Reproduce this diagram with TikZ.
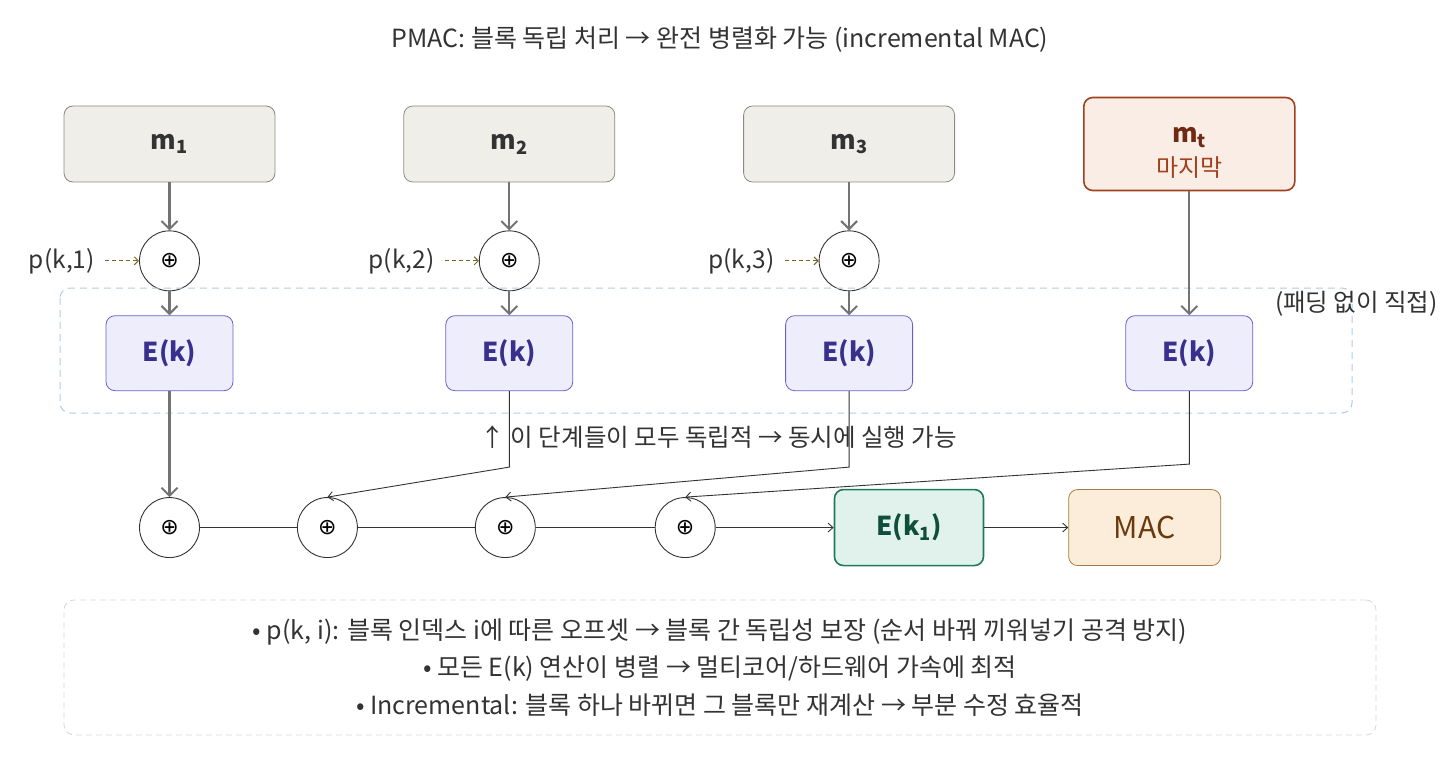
\documentclass[tikz,border=0pt]{standalone}
\usepackage{fontspec}
\setmainfont{Noto Sans CJK KR}
\newfontfamily\symfont{DejaVu Sans}
\usetikzlibrary{positioning,arrows.meta}

\definecolor{msgfill}{HTML}{F0EEE8}
\definecolor{msgline}{HTML}{8C8A82}
\definecolor{lastfill}{HTML}{FAEDE6}
\definecolor{lastline}{HTML}{A1401C}
\definecolor{lasttext}{HTML}{6E2A12}
\definecolor{encfill}{HTML}{EDEDFB}
\definecolor{encline}{HTML}{6C60C8}
\definecolor{enctext}{HTML}{3A2F8C}
\definecolor{finfill}{HTML}{E0F2EB}
\definecolor{finline}{HTML}{1F7A5C}
\definecolor{fintext}{HTML}{0E4E3A}
\definecolor{macfill}{HTML}{FBEDDA}
\definecolor{macline}{HTML}{A87B44}
\definecolor{mactext}{HTML}{6A3A0C}
\definecolor{flow}{HTML}{737373}
\definecolor{ink}{HTML}{333333}
\definecolor{offset}{HTML}{7A6425}
\definecolor{grpline}{HTML}{B4CAE2}
\definecolor{noteline}{HTML}{D8D8D8}

\tikzset{
    box/.style={rounded corners=9pt, minimum height=76pt, line width=0.8pt},
    msg/.style={box, draw=msgline, fill=msgfill, minimum width=211pt, text=ink, font=\fontsize{26}{30}\selectfont\bfseries},
    lastmsg/.style={box, draw=lastline, fill=lastfill, minimum width=211pt, minimum height=93pt, line width=1.6pt, text=lasttext, font=\fontsize{26}{30}\selectfont\bfseries},
    enc/.style={box, draw=encline, fill=encfill, minimum width=127pt, minimum height=75pt, text=enctext, font=\fontsize{26}{30}\selectfont\bfseries},
    fin/.style={box, draw=finline, fill=finfill, minimum width=149pt, line width=1.6pt, text=fintext, font=\fontsize{26}{30}\selectfont\bfseries},
    mac/.style={box, draw=macline, fill=macfill, minimum width=152pt, text=mactext, font=\fontsize{30}{34}\selectfont},
    xor/.style={circle, draw=ink, fill=white, line width=0.9pt, minimum size=60pt, inner sep=0pt, font=\symfont\fontsize{22}{22}\selectfont},
    lbl/.style={text=ink, inner sep=2pt, font=\fontsize{24.5}{28}\selectfont},
    flowarrow/.style={draw=flow, line width=2.2pt, -{Straight Barb[length=8pt,width=16pt,line width=2pt]}},
    link/.style={draw=ink, line width=0.9pt, -{Straight Barb[length=5pt,width=9pt]}},
    chain/.style={draw=ink, line width=0.9pt},
    offarrow/.style={draw=offset, line width=1pt, dash pattern=on 4pt off 3pt, -{Straight Barb[length=4pt,width=8pt]}},
}

\begin{document}
\begin{tikzpicture}[x=1pt,y=-1pt]
    \useasboundingbox (0,0) rectangle (1440,762);

    % Title
    \node[lbl, font=\fontsize{25}{29}\selectfont] (head) at (720,40) {PMAC: 블록 독립 처리 → 완전 병렬화 가능 (incremental MAC)};

    % Define nodes
    \node[msg]                          (m1)    at (169.5,144) {m\textsubscript{1}};
    \node[msg, right = 128pt of m1]     (m2)    {m\textsubscript{2}};
    \node[msg, right = 128pt of m2]     (m3)    {m\textsubscript{3}};
    \node[lastmsg, right = 128pt of m3] (mt)    {\raisebox{-10pt}[\height][\depth]{\begin{tabular}{@{}c@{}}m\textsubscript{t}\\[4pt]{\fontsize{24}{28}\selectfont\mdseries\color{lastline}마지막}\end{tabular}}};

    \node[xor, below = 48pt of m1]      (x1)    {⊕};
    \node[xor, below = 48pt of m2]      (x2)    {⊕};
    \node[xor, below = 48pt of m3]      (x3)    {⊕};

    \node[lbl, left = 42pt of x1]       (p1)    {p(k,1)};
    \node[lbl, left = 42pt of x2]       (p2)    {p(k,2)};
    \node[lbl, left = 42pt of x3]       (p3)    {p(k,3)};

    \node[enc, below = 24pt of x1]      (e1)    {E(k)};
    \node[enc, below = 24pt of x2]      (e2)    {E(k)};
    \node[enc, below = 24pt of x3]      (e3)    {E(k)};
    \node[enc, below = 124pt of mt]     (e4)    {E(k)};

    % independent group
    \draw[grpline, line width=1pt, dash pattern=on 7pt off 5pt, rounded corners=10pt] (60,288) rectangle (1352,413);
    \node[lbl, anchor=east]             (nopad) at (1440,304) {(패딩 없이 직접)};
    \node[lbl]                          (indep) at (719,437) {↑ 이 단계들이 모두 독립적 → 동시에 실행 가능};

    \node[xor, below = 106pt of e1]     (b1)    {⊕};
    \node[xor, right = 97pt of b1]      (b2)    {⊕};
    \node[xor, right = 117pt of b2]     (b3)    {⊕};
    \node[xor, right = 119pt of b3]     (b4)    {⊕};
    \node[fin, right = 118pt of b4]     (ek1)   {E(k\textsubscript{1})};
    \node[mac, right = 84pt of ek1]     (tag)   {MAC};

    % Connect nodes
    \draw[flowarrow] (m1) -- (x1);
    \draw[flowarrow] (m2) -- (x2);
    \draw[flowarrow] (m3) -- (x3);
    \draw[flowarrow] (x1) -- (e1);
    \draw[flowarrow] (x2) -- (e2);
    \draw[flowarrow] (x3) -- (e3);
    \draw[flowarrow] (mt) -- (e4);
    \draw[flowarrow] (e1) -- (b1);

    \draw[offarrow, shorten <=8pt] (p1.east) -- (x1.west);
    \draw[offarrow, shorten <=8pt] (p2.east) -- (x2.west);
    \draw[offarrow, shorten <=8pt] (p3.east) -- (x3.west);

    \draw[link] (e2.south) -- ++(0,76) -- (b2.north);
    \draw[link] (e3.south) -- ++(0,76) -- (b3.north);
    \draw[link] (e4.south) -- ++(0,73) -- (b4.north);

    \draw[chain] (b1) -- (b2);
    \draw[chain] (b2) -- (b3);
    \draw[chain] (b3) -- (b4);
    \draw[link] (b4) -- (ek1);
    \draw[link] (ek1) -- (tag);

    % notes
    \node[draw=noteline, line width=0.8pt, dash pattern=on 6pt off 4pt, rounded corners=10pt,
          minimum width=1312pt, minimum height=135pt, align=center, text=ink,
          font=\fontsize{25}{37.5}\selectfont] (notes) at (720,667.5)
        {• p(k, i): 블록 인덱스 i에 따른 오프셋 → 블록 간 독립성 보장 (순서 바꿔 끼워넣기 공격 방지)\\
         • 모든 E(k) 연산이 병렬 → 멀티코어/하드웨어 가속에 최적\\
         • Incremental: 블록 하나 바뀌면 그 블록만 재계산 → 부분 수정 효율적};
\end{tikzpicture}
\end{document}
